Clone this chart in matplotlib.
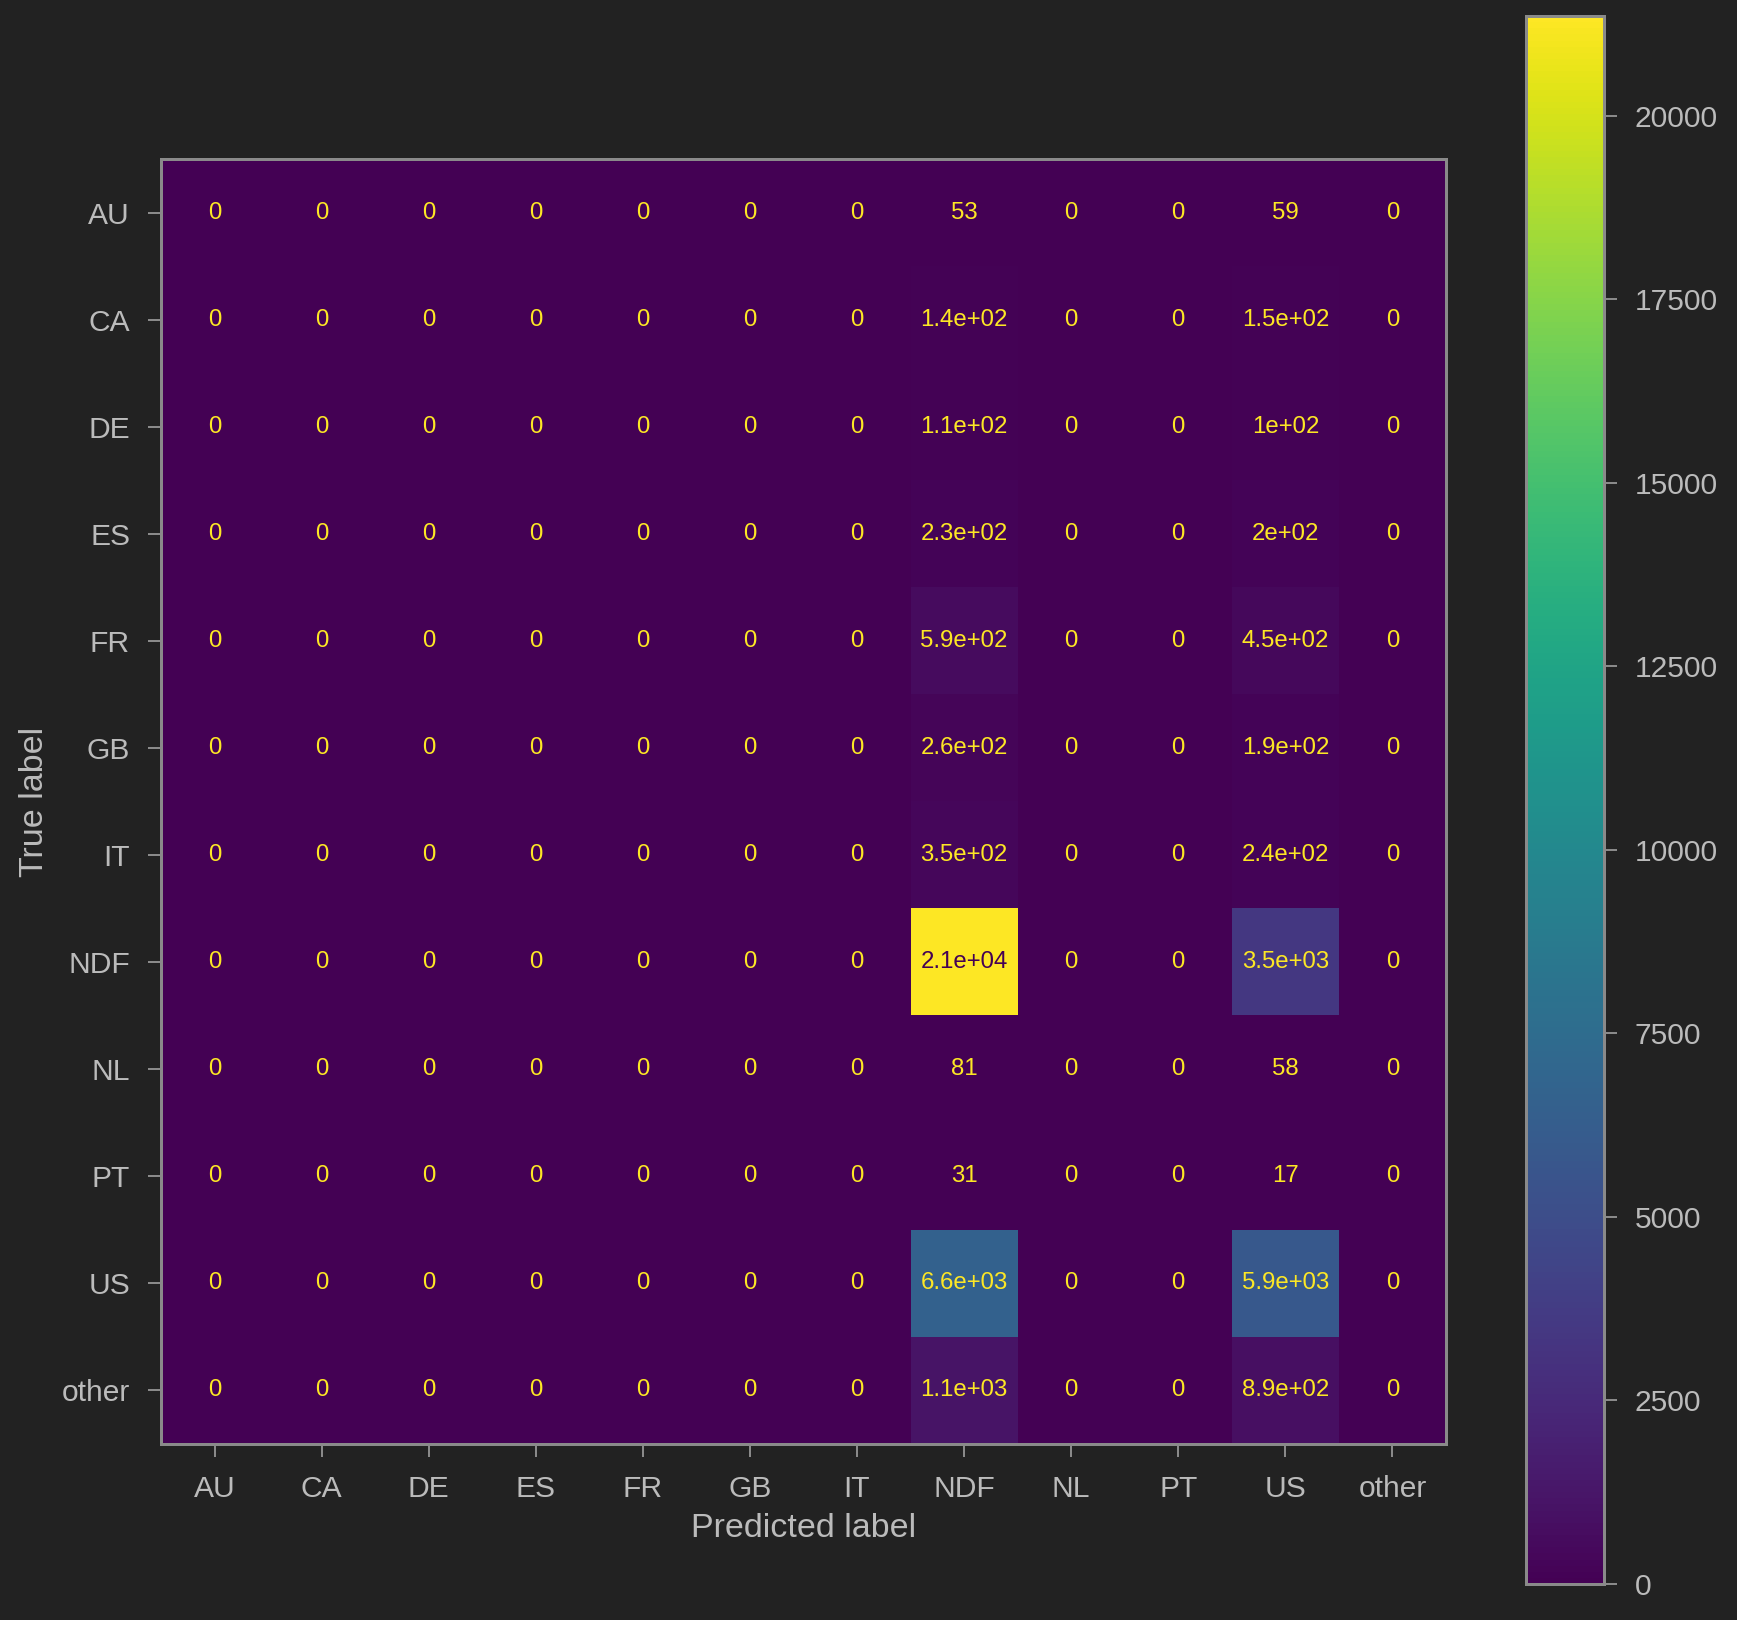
import matplotlib.pyplot as plt
import numpy as np
from matplotlib.patches import Rectangle

labels = ['AU', 'CA', 'DE', 'ES', 'FR', 'GB', 'IT', 'NDF', 'NL', 'PT', 'US', 'other']
# only the NDF and US prediction columns are non-zero
pred_ndf = [53, 143, 108, 228, 593, 262, 351, 21357, 81, 31, 6610, 1085]
pred_us = [59, 148, 102, 198, 452, 189, 243, 3493, 58, 17, 5884, 894]
cbar_ticks = [0, 2500, 5000, 7500, 10000, 12500, 15000, 17500, 20000]

cm = np.zeros((len(labels), len(labels)), dtype=float)
cm[:, labels.index('NDF')] = pred_ndf
cm[:, labels.index('US')] = pred_us

bg = '#222222'
fg = '#bbbbbb'
edge = '#8a8a8a'

plt.rcParams['font.family'] = ['Liberation Sans', 'DejaVu Sans']

W, H, dpi = 1752, 1633, 144
fig = plt.figure(figsize=(W / dpi, H / dpi), dpi=dpi, facecolor='white')
fig.patches.append(Rectangle((0, 13 / H), 1737 / W, 1 - 13 / H,
                             transform=fig.transFigure, facecolor=bg,
                             edgecolor='none', zorder=-10))

ax = fig.add_axes([160 / W, 189 / H, 1287 / W, 1285 / H])
cax = fig.add_axes([1526 / W, 49 / H, 78 / W, 1568 / H])

cmap = plt.get_cmap('viridis')
im = ax.imshow(cm, cmap=cmap, interpolation='nearest', vmin=0, vmax=cm.max())

thresh = (cm.max() + cm.min()) / 2.0
for i in range(cm.shape[0]):
    for j in range(cm.shape[1]):
        color = cmap(0) if cm[i, j] > thresh else cmap(1.0)
        ax.text(j, i, format(cm[i, j], '.2g'), ha='center', va='center',
                color=color, fontsize=12)

ax.set_xticks(range(len(labels)))
ax.set_xticklabels(labels)
ax.set_yticks(range(len(labels)))
ax.set_yticklabels(labels)
ax.set_xlabel('Predicted label', fontsize=17, color=fg, labelpad=5)
ax.set_ylabel('True label', fontsize=17, color=fg, labelpad=6)
ax.tick_params(axis='both', colors=edge, labelcolor=fg, labelsize=15,
               length=6.5, width=1)
ax.tick_params(axis='y', pad=9)
ax.tick_params(axis='x', pad=9)
for s in ax.spines.values():
    s.set_color(edge)
    s.set_linewidth(1.5)

cb = fig.colorbar(im, cax=cax)
cb.set_ticks(cbar_ticks)
cb.set_ticklabels([str(t) for t in cbar_ticks])
cb.outline.set_edgecolor(edge)
cb.outline.set_linewidth(1.5)
cax.tick_params(colors=edge, labelcolor=fg, labelsize=15, length=6.5,
                width=1, pad=9)

fig.savefig('out.png', dpi=dpi, facecolor=fig.get_facecolor())
